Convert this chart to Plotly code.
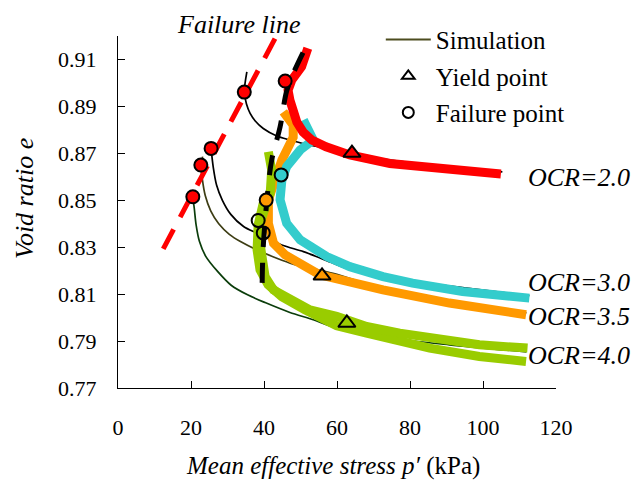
import plotly.graph_objects as go

# ---- Experimental e-p' paths (thick bands) ----
ocr20_p = [52.0, 50.3, 47.6, 46.6, 47.1, 47.7, 49.0, 50.7, 53.1, 57.0, 63.5, 74.5, 88.1, 104.9]
ocr20_e = [0.9148, 0.9069, 0.9012, 0.8969, 0.8927, 0.8884, 0.8833, 0.8791, 0.8757, 0.8728, 0.8693, 0.8657, 0.8636, 0.8612]

ocr30_p = [50.8, 53.5, 49.9, 46.2, 44.9, 44.4, 46.2, 49.9, 57.2, 63.5, 72.6, 80.7, 94.4, 112.7]
ocr30_e = [0.8842, 0.8757, 0.8714, 0.8643, 0.8587, 0.8502, 0.8402, 0.8331, 0.8260, 0.8217, 0.8175, 0.8147, 0.8111, 0.8083]

ocr35_p = [45.3, 48.0, 48.0, 46.6, 44.9, 43.0, 41.2, 41.2, 42.6, 45.8, 49.9, 55.3, 72.6, 90.8, 111.8]
ocr35_e = [0.8877, 0.8820, 0.8769, 0.8723, 0.8672, 0.8586, 0.8501, 0.8402, 0.8317, 0.8267, 0.8231, 0.8182, 0.8118, 0.8062, 0.8012]

ocr40a_p = [41.2, 42.1, 41.7, 40.3, 38.9, 38.9, 39.4, 40.3, 42.6, 47.1, 52.6, 59.9, 68.1, 77.2, 85.4, 99.0, 112.2]
ocr40a_e = [0.8707, 0.8629, 0.8530, 0.8459, 0.8402, 0.8317, 0.8246, 0.8175, 0.8118, 0.8076, 0.8033, 0.8005, 0.7962, 0.7934, 0.7913, 0.7884, 0.7870]

ocr40b_p = [40.0, 38.4, 38.1, 38.9, 41.1, 44.9, 51.2, 59.9, 68.1, 77.2, 85.4, 99.0, 111.8]
ocr40b_e = [0.8501, 0.8395, 0.8289, 0.8204, 0.8140, 0.8089, 0.8033, 0.7965, 0.7934, 0.7898, 0.7870, 0.7834, 0.7813]

# ---- Simulated paths ----
sim20_p = [35.3, 34.6, 35.2, 36.2, 37.6, 39.8, 43.5, 47.1, 51.2, 55.3, 63.5, 79.1, 90.8, 105.3]
sim20_e = [0.9047, 0.8961, 0.8910, 0.8870, 0.8838, 0.8806, 0.8774, 0.8757, 0.8740, 0.8727, 0.8697, 0.8663, 0.8642, 0.8621]

sim30_p = [25.5, 26.1, 27.0, 28.6, 30.9, 34.4, 38.0, 41.7, 45.3, 50.8, 58.1, 62.6, 74.5, 88.1, 94.4, 112.7]
sim30_e = [0.8721, 0.8640, 0.8565, 0.8500, 0.8440, 0.8388, 0.8360, 0.8333, 0.8307, 0.8281, 0.8237, 0.8210, 0.8175, 0.8140, 0.8128, 0.8093]

sim35_p = [23.2, 22.7, 23.1, 23.9, 25.4, 27.6, 30.5, 33.8, 38.0, 43.5, 48.0, 58.9, 75.3, 88.9, 111.9]
sim35_e = [0.8686, 0.8650, 0.8590, 0.8520, 0.8455, 0.8400, 0.8355, 0.8322, 0.8289, 0.8253, 0.8228, 0.8189, 0.8111, 0.8076, 0.8020]

sim40_p = [20.5, 20.9, 21.4, 22.3, 24.0, 27.1, 31.0, 35.5, 40.3, 47.1, 53.5, 58.9, 74.5, 90.8, 111.9]
sim40_e = [0.8515, 0.8465, 0.8395, 0.8325, 0.8262, 0.8200, 0.8138, 0.8097, 0.8064, 0.8022, 0.7991, 0.7960, 0.7913, 0.7884, 0.7854]

# ---- Failure line (red dashed) and thick black dashed line ----
fail_line_p = [12.4, 43.4]
fail_line_e = [0.8293, 0.9200]

black_line_p = [39.5, 39.75, 40.8, 42.1, 44.4, 46.2, 48.0, 51.5]
black_line_e = [0.8148, 0.8289, 0.8501, 0.8671, 0.8812, 0.8965, 0.9040, 0.9155]

# ---- Characteristic points ----
sim_fail_p = [20.5, 22.7, 25.5, 34.6]
sim_fail_e = [0.8515, 0.8650, 0.8721, 0.8961]

exp_fail_p = [45.8, 44.7, 40.6, 38.4, 39.8]
exp_fail_e = [0.9008, 0.8608, 0.8501, 0.8414, 0.8361]
exp_fail_fill = ["#FF0000", "#33CCCC", "#FF9900", "rgba(0,0,0,0)", "rgba(0,0,0,0)"]

yield_p = [64.1, 55.9, 62.7]
yield_e = [0.8701, 0.8178, 0.7977]
yield_fill = ["#FF0000", "#FF9900", "#99CC00"]

ocr_labels = ["OCR=2.0", "OCR=3.0", "OCR=3.5", "OCR=4.0"]
ocr_label_e = [0.8595, 0.8148, 0.8003, 0.7838]

FONT = "Liberation Serif"

fig = go.Figure()

# simulations (under the experimental bands)
for p, e, c in [(sim20_p, sim20_e, "black"), (sim30_p, sim30_e, "black"),
                (sim35_p, sim35_e, "#3d3d14"), (sim40_p, sim40_e, "#0b3d0b")]:
    fig.add_trace(go.Scatter(x=p, y=e, mode="lines", line=dict(color=c, width=1.7, shape="spline", smoothing=0.8),
                             showlegend=False, hoverinfo="skip"))

# experimental bands
for p, e, c in [(ocr35_p, ocr35_e, "#FF9900"), (ocr30_p, ocr30_e, "#33CCCC"),
                (ocr40b_p, ocr40b_e, "#99CC00"), (ocr40a_p, ocr40a_e, "#99CC00"),
                (ocr20_p, ocr20_e, "#FF0000")]:
    fig.add_trace(go.Scatter(x=p, y=e, mode="lines", line=dict(color=c, width=9),
                             showlegend=False, hoverinfo="skip"))

fig.add_trace(go.Scatter(x=fail_line_p, y=fail_line_e, mode="lines",
                         line=dict(color="#FF0000", width=5, dash="22px,14px"), showlegend=False))
fig.add_trace(go.Scatter(x=black_line_p, y=black_line_e, mode="lines",
                         line=dict(color="black", width=5, dash="20px,16px", shape="spline"), showlegend=False))

fig.add_trace(go.Scatter(x=sim_fail_p, y=sim_fail_e, mode="markers",
                         marker=dict(symbol="circle", size=13, color="#FF0000", line=dict(color="black", width=2)),
                         showlegend=False))
fig.add_trace(go.Scatter(x=exp_fail_p, y=exp_fail_e, mode="markers",
                         marker=dict(symbol="circle", size=13, color=exp_fail_fill, line=dict(color="black", width=2)),
                         showlegend=False))
fig.add_trace(go.Scatter(x=yield_p, y=yield_e, mode="markers",
                         marker=dict(symbol="triangle-up", size=15, color=yield_fill, line=dict(color="black", width=2)),
                         showlegend=False))

# legend entries
fig.add_trace(go.Scatter(x=[None], y=[None], mode="lines", name="Simulation",
                         line=dict(color="#4d4d1f", width=2), legendgroup="a"))
fig.add_trace(go.Scatter(x=[None], y=[None], mode="markers", name="Yield point",
                         marker=dict(symbol="triangle-up-open", size=11, color="black", line=dict(width=2)), legendgroup="b"))
fig.add_trace(go.Scatter(x=[None], y=[None], mode="markers", name="Failure point",
                         marker=dict(symbol="circle-open", size=11, color="black", line=dict(width=2)), legendgroup="c"))

for txt, ey in zip(ocr_labels, ocr_label_e):
    fig.add_annotation(x=111.9, y=ey, xref="x", yref="y", text=txt, showarrow=False,
                       xanchor="left", yanchor="middle",
                       font=dict(family=FONT, size=26, color="black", style="italic"))

fig.add_annotation(x=33.2, y=1.034, xref="x", yref="paper", text="Failure line", showarrow=False,
                   xanchor="center", yanchor="middle", font=dict(family=FONT, size=26, color="black", style="italic"))
fig.add_annotation(x=-0.212, y=0.537, xref="paper", yref="paper", text="Void ratio e", showarrow=False,
                   textangle=-90, xanchor="center", yanchor="middle",
                   font=dict(family=FONT, size=26, color="black", style="italic"))
fig.add_annotation(x=0.49, y=-0.2216, xref="paper", yref="paper",
                   text="<i>Mean effective stress p\u2032</i> (kPa)", showarrow=False,
                   xanchor="center", yanchor="middle", font=dict(family=FONT, size=25, color="black"))

axis_common = dict(showline=True, linecolor="black", linewidth=1, ticks="inside", ticklen=7,
                   tickcolor="black", showgrid=False, zeroline=False, mirror=False,
                   tickfont=dict(family=FONT, size=22, color="black"))

fig.update_layout(
    template="none",
    width=644, height=485,
    margin=dict(l=118, r=88, t=36, b=97),
    paper_bgcolor="white", plot_bgcolor="white",
    font=dict(family=FONT, color="black"),
    xaxis=dict(range=[0, 120], tick0=0, dtick=20, ticklabelstandoff=20, **axis_common),
    yaxis=dict(range=[0.77, 0.92], tick0=0.77, dtick=0.02, tickformat=".2f", ticklabelstandoff=16, **axis_common),
    legend=dict(x=0.6, y=1.055, xanchor="left", yanchor="top", bgcolor="rgba(0,0,0,0)",
                font=dict(family=FONT, size=25, color="black"), tracegroupgap=1, itemwidth=45),
)

fig.write_html("out.html")
